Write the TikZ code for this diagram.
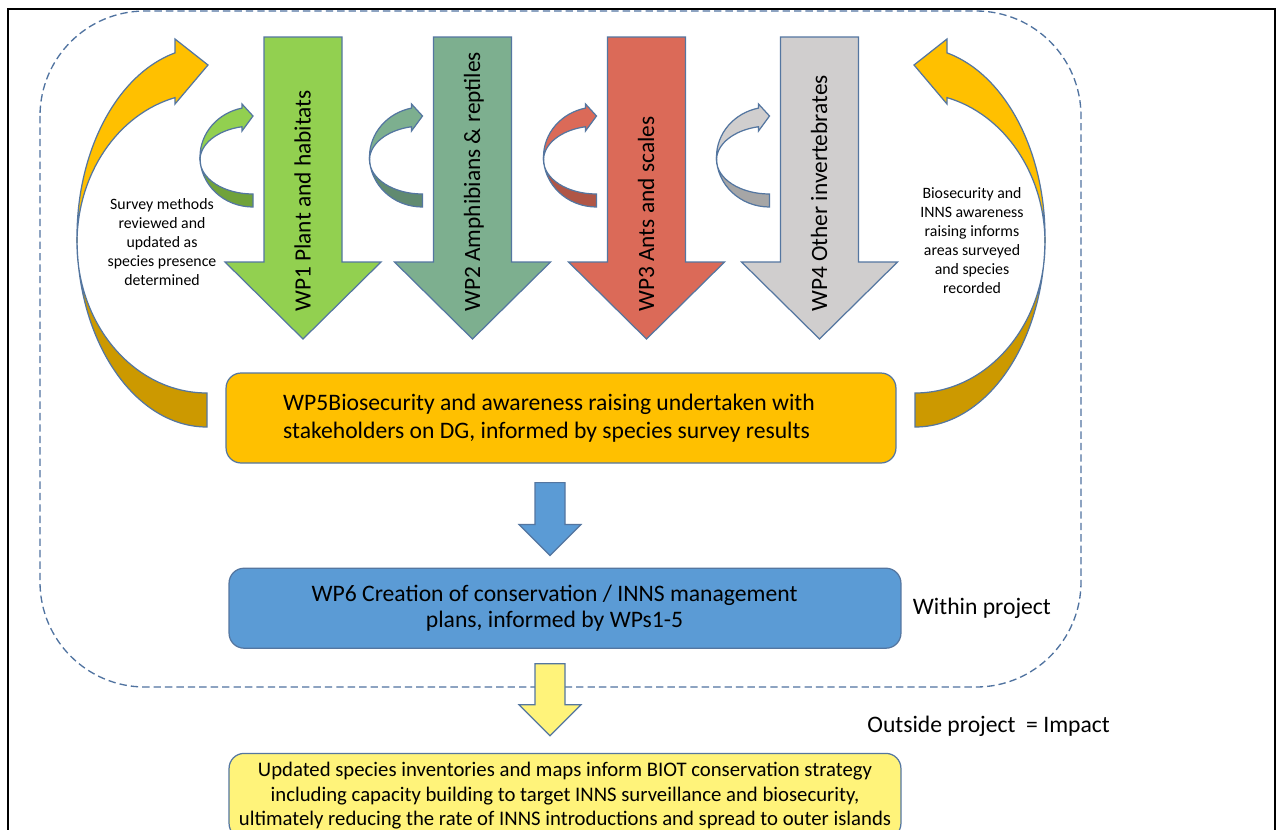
\documentclass[tikz,border=0pt]{standalone}
\usepackage{fontspec}
\setmainfont{Carlito}
\usetikzlibrary{positioning,calc}

\definecolor{edge}{RGB}{84,118,160}
\definecolor{zoneline}{RGB}{80,115,160}
\definecolor{gold}{RGB}{255,192,0}
\definecolor{golddark}{RGB}{204,153,0}
\definecolor{wpone}{RGB}{146,208,80}
\definecolor{wponedark}{RGB}{112,162,58}
\definecolor{wptwo}{RGB}{125,175,143}
\definecolor{wptwodark}{RGB}{96,138,112}
\definecolor{wpthree}{RGB}{219,106,88}
\definecolor{wpthreedark}{RGB}{176,86,70}
\definecolor{wpfour}{RGB}{208,206,206}
\definecolor{wpfourdark}{RGB}{166,166,166}
\definecolor{planblue}{RGB}{91,155,213}
\definecolor{pale}{RGB}{255,243,122}

% block arrow pointing down: style, top, tip, shaft half, head half, head length
\newcommand{\blockdown}[6]{%
  \draw[blockedge,#1] ($(#2)+(-#4,0)$) -- ($(#2)+(#4,0)$) -- ($(#3)+(#4,-#6)$)
    -- ($(#3)+(#5,-#6)$) -- (#3) -- ($(#3)+(-#5,-#6)$) -- ($(#3)+(-#4,-#6)$) -- cycle;}

\tikzset{
  blockedge/.style={draw=edge, line width=0.7pt, line join=miter},
  wpbox/.style={draw=edge, line width=0.7pt, rounded corners=0.3cm, inner sep=0pt},
  wplabel/.style={rotate=90, anchor=base west, inner sep=0pt, font=\fontsize{13.3}{16}\selectfont},
  note/.style={inner sep=0pt, font=\fontsize{13.45}{15.9}\selectfont},
  sidenote/.style={inner sep=0pt, align=center, font=\fontsize{9}{10.8}\selectfont},
  pics/smallloop/.style 2 args={code={
    \draw[blockedge, fill=#2] (-53,-1) arc[start angle=180, end angle=90, x radius=53, y radius=50]
      -- (0,36) arc[start angle=90, end angle=180, x radius=53, y radius=34] -- cycle;
    \draw[blockedge, fill=#1] (-11,-31.26) arc[start angle=258.02, end angle=180, x radius=53, y radius=34]
      -- (-53,-1) arc[start angle=180, end angle=258.02, x radius=53, y radius=50]
      -- (-11,-54) -- (0,-42) -- (-11,-27) -- cycle;
  }},
  pics/bigloop/.style 2 args={code={
    \draw[blockedge, fill=#2] (-130,-3) arc[start angle=180, end angle=90, x radius=130, y radius=190]
      -- (0,153) arc[start angle=90, end angle=180, x radius=130, y radius=150] -- cycle;
    \draw[blockedge, fill=#1] (-32,-142.4) arc[start angle=255.75, end angle=180, x radius=130, y radius=150]
      -- (-130,-3) arc[start angle=180, end angle=255.75, x radius=130, y radius=190]
      -- (-32,-201) -- (1,-175) -- (-32,-136) -- cycle;
  }},
}

\begin{document}
\begin{tikzpicture}[x=0.02cm,y=-0.02cm]
\useasboundingbox (0,0) rectangle (1278,829);
\clip (0,0) rectangle (1278,829);
\fill[white] (0,0) rectangle (1278,829);

% Frame and project zone
  \draw[line width=1.4pt] (8,9) rectangle (1275,900);
  \draw[zoneline, line width=0.75pt, dash pattern=on 4.2pt off 2.3pt, rounded corners=2.1cm]
    (40,11) rectangle (1081,687);

% Feedback loops
  \pic at (207,240) {bigloop={gold}{golddark}};
  \pic[xscale=-1] at (915,240) {bigloop={gold}{golddark}};

% Work packages
  \foreach \xc/\body/\shade/\wptext [count=\i] in
    {303/wpone/wponedark/{WP1 Plant and habitats},
     472.5/wptwo/wptwodark/{WP2 Amphibians \& reptiles},
     646.5/wpthree/wpthreedark/{WP3 Ants and scales},
     819.5/wpfour/wpfourdark/{WP4 Other invertebrates}}{
    \blockdown{fill=\body}{\xc,37}{\xc,339}{39}{78}{77}
    \node[wplabel] (wp\i) at (\xc+7.5,312) {\wptext};
    \pic at (\xc-50,158) {smallloop={\body}{\shade}};
  }

% Nodes
  \node[wpbox, fill=gold, minimum width=13.4cm, minimum height=1.8cm,
        label={[note, align=left, xshift=-0.24cm]center:{WP5Biosecurity and awareness raising undertaken with\\stakeholders on DG, informed by species survey results}}]
        (wp5) at (561,418) {};
  \node[wpbox, fill=planblue, minimum width=13.44cm, minimum height=1.6cm,
        below=2.08cm of wp5, xshift=0.08cm,
        label={[note, align=center, xshift=-0.21cm, font=\fontsize{13.45}{15.3}\selectfont]center:{WP6 Creation of conservation / INNS management\\plans, informed by WPs1-5}}]
        (wp6) {};
  \node[wpbox, fill=pale, minimum width=13.44cm, minimum height=1.7cm, align=center,
        font=\fontsize{11.8}{13.9}\selectfont, below=2.08cm of wp6] (impact)
    {Updated species inventories and maps inform BIOT conservation strategy\\
     including capacity building to target INNS surveillance and biosecurity,\\
     ultimately reducing the rate of INNS introductions and spread to outer islands};

  \node[note, right=0.22cm of wp6] (within) {Within project};
  \node[note, anchor=west] (outside) at (867,726) {Outside project~ = Impact};

  \node[sidenote] (survey) at (162,242)
    {Survey methods\\reviewed and\\updated as\\species presence\\determined};
  \node[sidenote] (aware) at (972,240.5)
    {Biosecurity and\\INNS awareness\\raising informs\\areas surveyed\\and species\\recorded};

% Edges
  \coordinate (top5) at ($(wp5.south)+(-11,19)$);
  \coordinate (tip6) at ($(wp6.north)+(-15,-12)$);
  \coordinate (top6) at ($(wp6.south)+(-15,15)$);
  \coordinate (tipimpact) at ($(impact.north)+(-15,-17)$);
  \blockdown{fill=planblue}{top5}{tip6}{15}{31}{31}
  \blockdown{fill=pale}{top6}{tipimpact}{15}{31}{31}

\end{tikzpicture}
\end{document}
